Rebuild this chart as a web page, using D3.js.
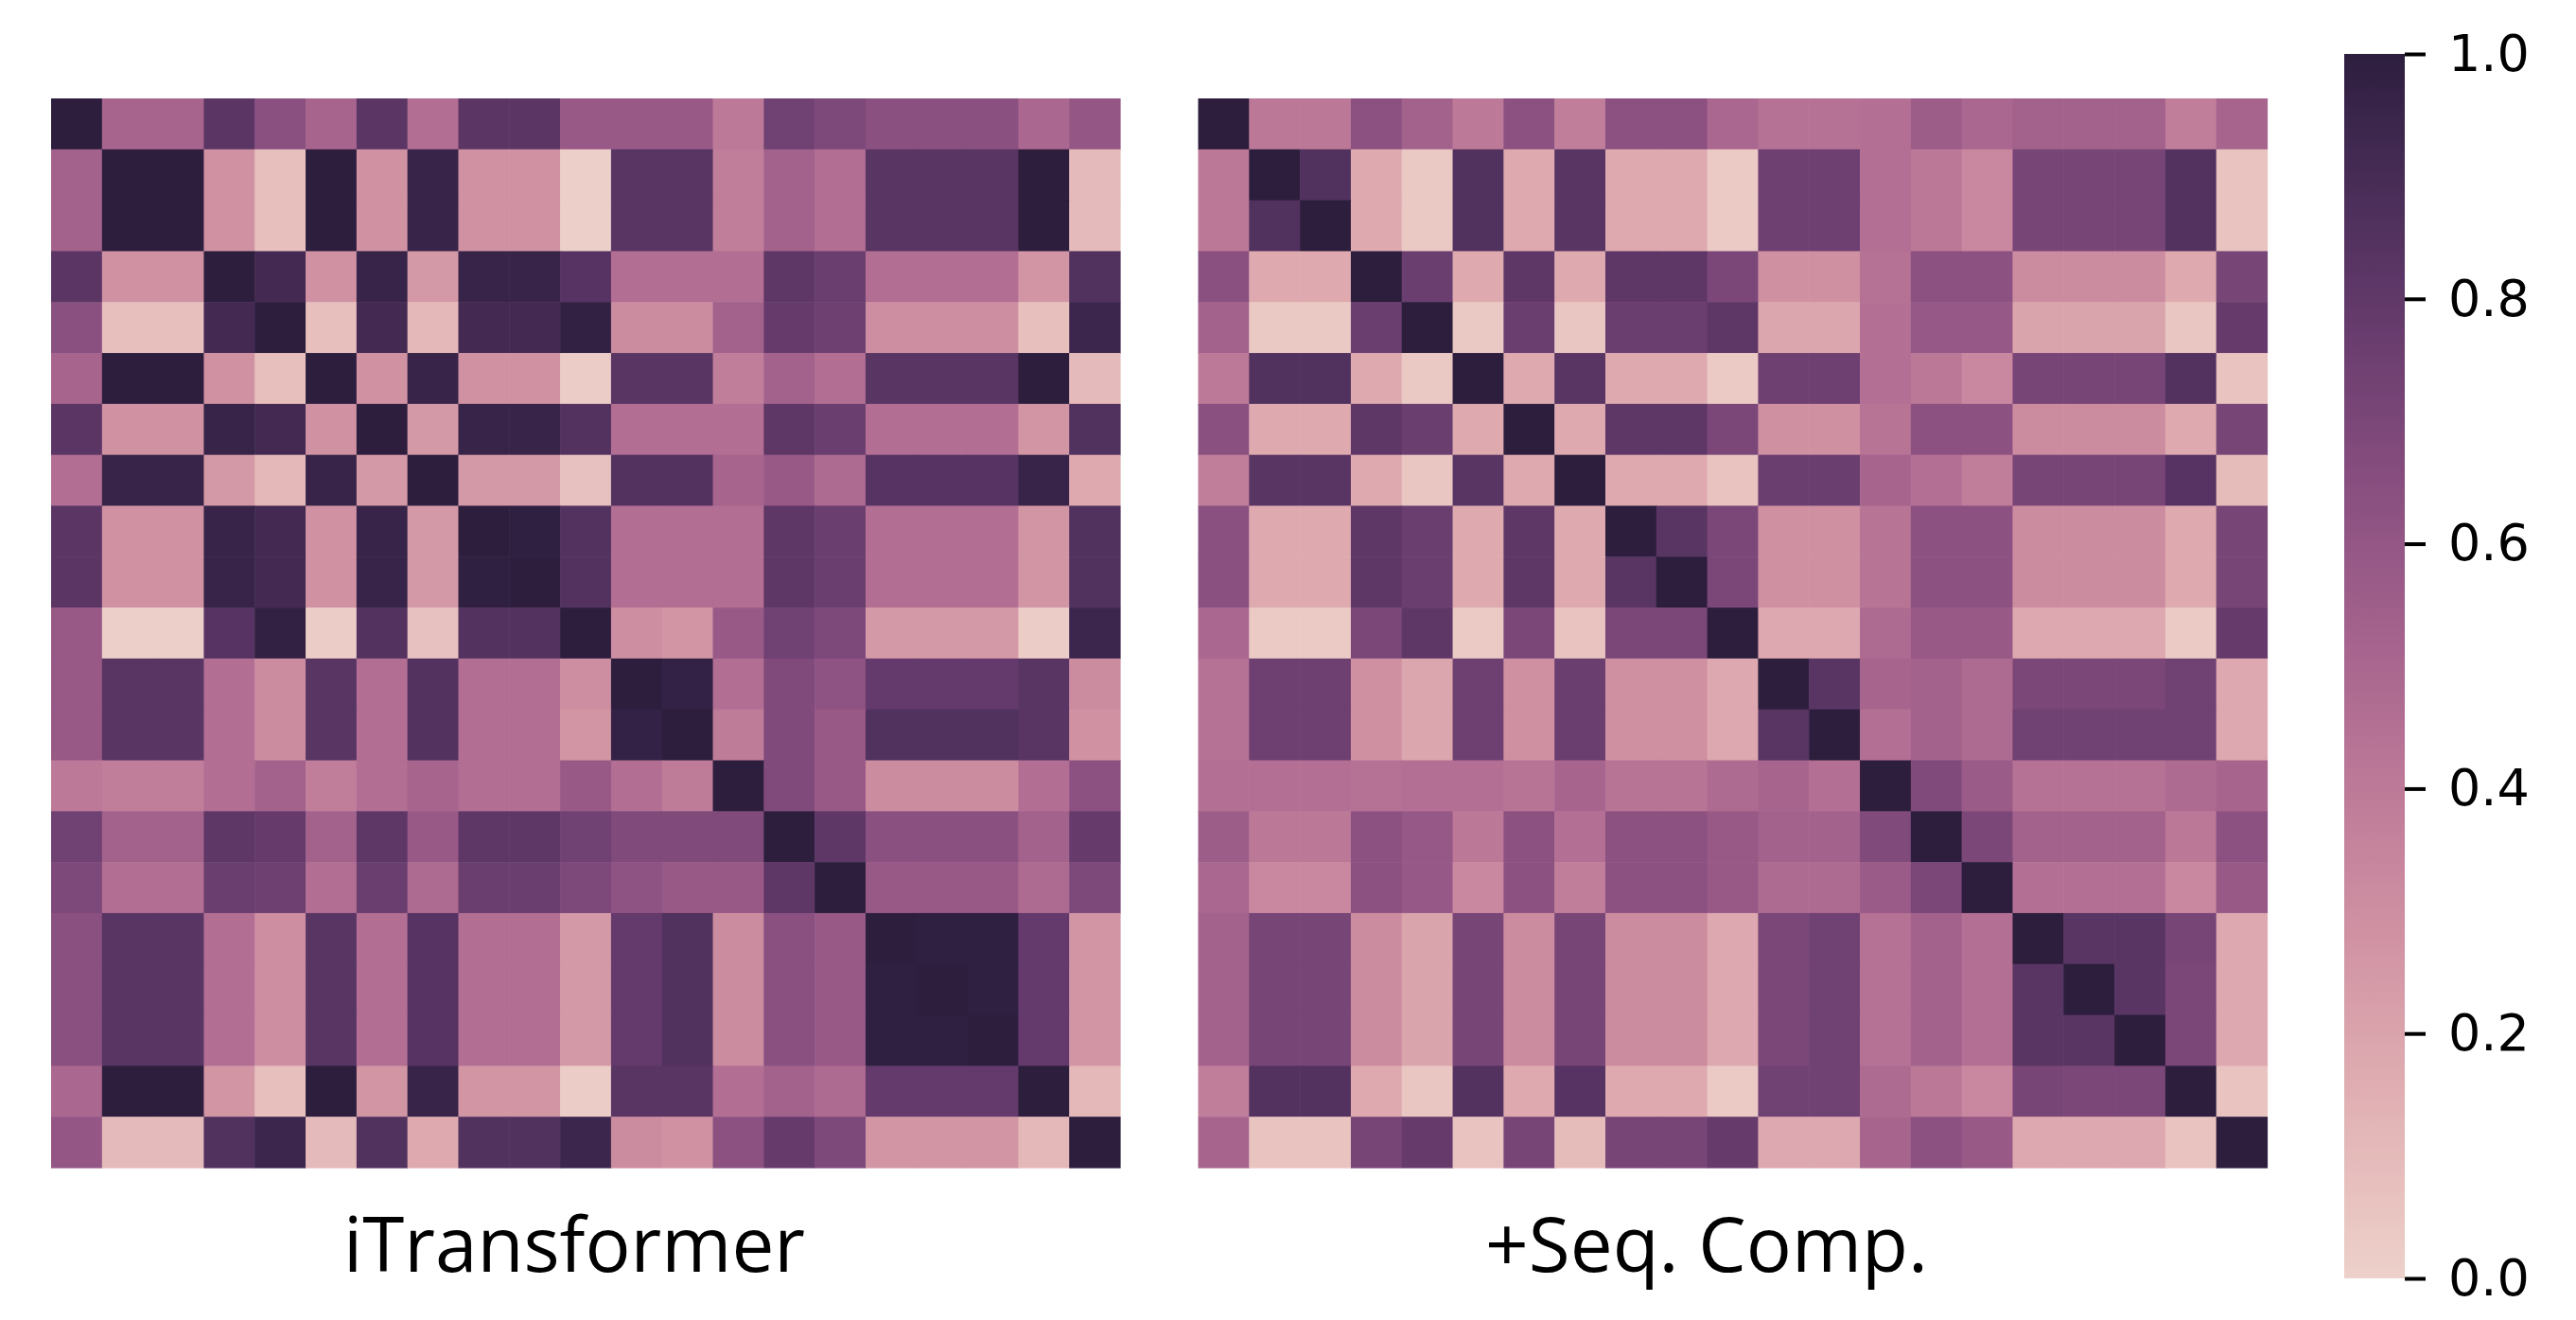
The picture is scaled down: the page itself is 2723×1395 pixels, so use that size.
<!DOCTYPE html>
<html lang="en">

<head>
    <meta charset="utf-8">
    <title>Variate correlation heatmaps</title>
    <script type="text/javascript" src="https://cdn.jsdelivr.net/npm/d3@7"></script>
    <style>
        body {
            margin: 0;
            background: #ffffff;
        }
    </style>
</head>

<body>
    <script type="text/javascript">
        // Data ---------------------------------------------------
        // 21 variates, correlation (row by row)
        var variates = d3.range(21);

        var iTransformerCorr = [
            [1.00, 0.51, 0.51, 0.82, 0.64, 0.51, 0.82, 0.46, 0.82, 0.82, 0.58, 0.58, 0.58, 0.40, 0.74, 0.69, 0.64, 0.64, 0.64, 0.50, 0.60],
            [0.53, 1.00, 1.00, 0.28, 0.08, 1.00, 0.28, 0.96, 0.28, 0.28, 0.01, 0.83, 0.83, 0.38, 0.53, 0.46, 0.83, 0.83, 0.83, 1.00, 0.10],
            [0.53, 1.00, 1.00, 0.28, 0.08, 1.00, 0.28, 0.96, 0.28, 0.28, 0.01, 0.83, 0.83, 0.38, 0.53, 0.46, 0.83, 0.83, 0.83, 1.00, 0.10],
            [0.82, 0.28, 0.28, 1.00, 0.91, 0.28, 0.96, 0.25, 0.96, 0.96, 0.84, 0.46, 0.46, 0.46, 0.81, 0.76, 0.46, 0.46, 0.46, 0.27, 0.86],
            [0.64, 0.08, 0.08, 0.91, 1.00, 0.08, 0.91, 0.11, 0.91, 0.91, 0.98, 0.31, 0.31, 0.53, 0.78, 0.75, 0.30, 0.30, 0.30, 0.08, 0.94],
            [0.51, 1.00, 1.00, 0.28, 0.08, 1.00, 0.28, 0.96, 0.28, 0.28, 0.02, 0.83, 0.83, 0.38, 0.53, 0.46, 0.83, 0.83, 0.83, 1.00, 0.10],
            [0.82, 0.28, 0.28, 0.96, 0.91, 0.28, 1.00, 0.25, 0.96, 0.96, 0.85, 0.46, 0.46, 0.46, 0.81, 0.76, 0.46, 0.46, 0.46, 0.27, 0.86],
            [0.46, 0.96, 0.96, 0.25, 0.11, 0.96, 0.25, 1.00, 0.25, 0.25, 0.07, 0.85, 0.85, 0.51, 0.58, 0.48, 0.84, 0.84, 0.84, 0.96, 0.17],
            [0.82, 0.28, 0.28, 0.96, 0.91, 0.28, 0.96, 0.25, 1.00, 0.99, 0.85, 0.46, 0.46, 0.46, 0.81, 0.76, 0.46, 0.46, 0.46, 0.27, 0.86],
            [0.82, 0.28, 0.28, 0.96, 0.91, 0.28, 0.96, 0.25, 0.99, 1.00, 0.85, 0.46, 0.46, 0.46, 0.81, 0.76, 0.46, 0.46, 0.46, 0.27, 0.86],
            [0.58, 0.01, 0.01, 0.84, 0.98, 0.02, 0.85, 0.07, 0.85, 0.85, 1.00, 0.30, 0.27, 0.58, 0.74, 0.69, 0.25, 0.25, 0.25, 0.02, 0.94],
            [0.58, 0.83, 0.83, 0.46, 0.31, 0.83, 0.46, 0.85, 0.46, 0.46, 0.30, 1.00, 0.97, 0.46, 0.68, 0.62, 0.79, 0.79, 0.79, 0.83, 0.31],
            [0.58, 0.83, 0.83, 0.46, 0.31, 0.83, 0.46, 0.85, 0.46, 0.46, 0.27, 0.97, 1.00, 0.39, 0.68, 0.58, 0.86, 0.86, 0.86, 0.83, 0.28],
            [0.40, 0.38, 0.38, 0.46, 0.53, 0.38, 0.46, 0.51, 0.46, 0.46, 0.58, 0.46, 0.39, 1.00, 0.68, 0.58, 0.31, 0.31, 0.31, 0.46, 0.63],
            [0.74, 0.53, 0.53, 0.81, 0.78, 0.53, 0.81, 0.58, 0.81, 0.81, 0.74, 0.68, 0.68, 0.68, 1.00, 0.81, 0.64, 0.64, 0.64, 0.53, 0.78],
            [0.69, 0.46, 0.46, 0.76, 0.75, 0.46, 0.76, 0.48, 0.76, 0.76, 0.69, 0.62, 0.58, 0.58, 0.81, 1.00, 0.58, 0.58, 0.58, 0.48, 0.69],
            [0.64, 0.83, 0.83, 0.46, 0.30, 0.83, 0.46, 0.84, 0.46, 0.46, 0.25, 0.79, 0.86, 0.31, 0.64, 0.58, 1.00, 0.99, 0.99, 0.79, 0.27],
            [0.64, 0.83, 0.83, 0.46, 0.30, 0.83, 0.46, 0.84, 0.46, 0.46, 0.25, 0.79, 0.86, 0.31, 0.64, 0.58, 0.99, 1.00, 0.99, 0.79, 0.27],
            [0.64, 0.83, 0.83, 0.46, 0.30, 0.83, 0.46, 0.84, 0.46, 0.46, 0.25, 0.79, 0.86, 0.31, 0.64, 0.58, 0.99, 0.99, 1.00, 0.79, 0.27],
            [0.50, 1.00, 1.00, 0.27, 0.08, 1.00, 0.27, 0.96, 0.27, 0.27, 0.02, 0.83, 0.83, 0.46, 0.53, 0.48, 0.79, 0.79, 0.79, 1.00, 0.11],
            [0.60, 0.10, 0.10, 0.86, 0.94, 0.10, 0.86, 0.17, 0.86, 0.86, 0.94, 0.31, 0.28, 0.63, 0.78, 0.69, 0.27, 0.27, 0.27, 0.11, 1.00]
        ];

        var seqCompCorr = [
            [1.00, 0.41, 0.41, 0.63, 0.53, 0.40, 0.63, 0.38, 0.63, 0.63, 0.50, 0.44, 0.44, 0.45, 0.56, 0.50, 0.53, 0.53, 0.53, 0.38, 0.51],
            [0.41, 1.00, 0.86, 0.17, 0.04, 0.86, 0.17, 0.83, 0.17, 0.17, 0.03, 0.75, 0.75, 0.45, 0.41, 0.33, 0.71, 0.71, 0.71, 0.85, 0.06],
            [0.41, 0.86, 1.00, 0.17, 0.04, 0.86, 0.17, 0.83, 0.17, 0.17, 0.03, 0.75, 0.75, 0.45, 0.41, 0.33, 0.71, 0.71, 0.71, 0.85, 0.06],
            [0.64, 0.17, 0.17, 1.00, 0.76, 0.17, 0.81, 0.17, 0.81, 0.81, 0.70, 0.29, 0.29, 0.44, 0.63, 0.63, 0.31, 0.31, 0.31, 0.17, 0.71],
            [0.53, 0.04, 0.04, 0.76, 1.00, 0.04, 0.76, 0.05, 0.76, 0.76, 0.81, 0.19, 0.19, 0.45, 0.59, 0.59, 0.20, 0.20, 0.20, 0.05, 0.78],
            [0.40, 0.86, 0.86, 0.17, 0.04, 1.00, 0.17, 0.83, 0.17, 0.17, 0.03, 0.75, 0.75, 0.45, 0.41, 0.33, 0.71, 0.71, 0.71, 0.85, 0.06],
            [0.64, 0.17, 0.17, 0.81, 0.76, 0.17, 1.00, 0.17, 0.81, 0.81, 0.70, 0.29, 0.29, 0.43, 0.63, 0.63, 0.31, 0.31, 0.31, 0.17, 0.71],
            [0.38, 0.83, 0.83, 0.17, 0.05, 0.83, 0.17, 1.00, 0.17, 0.17, 0.06, 0.76, 0.76, 0.51, 0.45, 0.38, 0.71, 0.71, 0.71, 0.84, 0.09],
            [0.64, 0.17, 0.17, 0.81, 0.76, 0.17, 0.81, 0.17, 1.00, 0.83, 0.70, 0.29, 0.29, 0.43, 0.63, 0.63, 0.31, 0.31, 0.31, 0.17, 0.71],
            [0.64, 0.17, 0.17, 0.81, 0.76, 0.17, 0.81, 0.17, 0.83, 1.00, 0.70, 0.29, 0.29, 0.43, 0.63, 0.63, 0.31, 0.31, 0.31, 0.17, 0.71],
            [0.50, 0.03, 0.03, 0.70, 0.81, 0.03, 0.70, 0.06, 0.70, 0.70, 1.00, 0.18, 0.18, 0.48, 0.58, 0.58, 0.18, 0.18, 0.18, 0.03, 0.78],
            [0.44, 0.75, 0.75, 0.29, 0.19, 0.75, 0.29, 0.76, 0.29, 0.29, 0.18, 1.00, 0.83, 0.51, 0.53, 0.48, 0.70, 0.70, 0.70, 0.74, 0.18],
            [0.44, 0.75, 0.75, 0.29, 0.19, 0.75, 0.29, 0.76, 0.29, 0.29, 0.18, 0.83, 1.00, 0.45, 0.53, 0.48, 0.74, 0.74, 0.74, 0.74, 0.18],
            [0.45, 0.45, 0.45, 0.44, 0.45, 0.45, 0.43, 0.51, 0.43, 0.43, 0.48, 0.51, 0.45, 1.00, 0.68, 0.57, 0.44, 0.44, 0.44, 0.48, 0.51],
            [0.56, 0.41, 0.41, 0.63, 0.59, 0.41, 0.63, 0.45, 0.63, 0.63, 0.58, 0.53, 0.53, 0.68, 1.00, 0.70, 0.53, 0.53, 0.53, 0.41, 0.63],
            [0.50, 0.33, 0.33, 0.63, 0.59, 0.33, 0.63, 0.38, 0.63, 0.63, 0.58, 0.48, 0.48, 0.57, 0.70, 1.00, 0.45, 0.45, 0.45, 0.33, 0.58],
            [0.53, 0.71, 0.71, 0.31, 0.20, 0.71, 0.31, 0.71, 0.31, 0.31, 0.18, 0.70, 0.74, 0.44, 0.53, 0.45, 1.00, 0.83, 0.83, 0.71, 0.18],
            [0.53, 0.71, 0.71, 0.31, 0.20, 0.71, 0.31, 0.71, 0.31, 0.31, 0.18, 0.70, 0.74, 0.44, 0.53, 0.45, 0.83, 1.00, 0.83, 0.70, 0.18],
            [0.53, 0.71, 0.71, 0.31, 0.20, 0.71, 0.31, 0.71, 0.31, 0.31, 0.18, 0.70, 0.74, 0.44, 0.53, 0.45, 0.83, 0.83, 1.00, 0.70, 0.18],
            [0.38, 0.85, 0.85, 0.17, 0.05, 0.85, 0.17, 0.84, 0.17, 0.17, 0.03, 0.74, 0.74, 0.48, 0.41, 0.33, 0.71, 0.70, 0.70, 1.00, 0.06],
            [0.51, 0.06, 0.06, 0.71, 0.78, 0.06, 0.71, 0.09, 0.71, 0.71, 0.78, 0.18, 0.18, 0.51, 0.63, 0.58, 0.18, 0.18, 0.18, 0.06, 1.00]
        ];

        var panelTitles = ["iTransformer", "+Seq. Comp."];
        var colorbarTicks = [0.0, 0.2, 0.4, 0.6, 0.8, 1.0];

        //Width and height
        var w = 2723;
        var h = 1395;

        // seaborn cubehelix_palette(as_cmap=True) defaults
        function cubehelix(v) {
            var x = 0.85 + (0.15 - 0.85) * Math.max(0, Math.min(1, v));
            var a = 0.8 * x * (1 - x) / 2;
            var phi = 2 * Math.PI * (0.4 * x);
            var c = Math.cos(phi), s = Math.sin(phi);
            var r = x + a * (-0.14861 * c + 1.78277 * s);
            var g = x + a * (-0.29227 * c - 0.90649 * s);
            var b = x + a * (1.97294 * c);
            var clip = function(t) { return Math.round(255 * Math.max(0, Math.min(1, t))); };
            return d3.rgb(clip(r), clip(g), clip(b)).formatHex();
        }

        var svg = d3.select("body")
            .append("svg")
            .attr("width", w)
            .attr("height", h);

        svg.append("rect")
            .attr("width", w)
            .attr("height", h)
            .attr("fill", "#ffffff");

        // Heatmaps -----------------------------------------------
        var panels = [
            { values: iTransformerCorr, x0: 54, titleX: 607 },
            { values: seqCompCorr, x0: 1266.5, titleX: 1804 }
        ];
        var size = 1130;

        var yScale = d3.scaleBand()
            .domain(variates)
            .range([104, 104 + size]);

        panels.forEach(function(p, k) {
            var xScale = d3.scaleBand()
                .domain(variates)
                .range([p.x0, p.x0 + size]);

            var cells = [];
            p.values.forEach(function(row, i) {
                row.forEach(function(v, j) {
                    cells.push({ row: i, col: j, value: v });
                });
            });

            svg.append("g")
                .selectAll("rect")
                .data(cells)
                .enter()
                .append("rect")
                .attr("x", function(d) { return xScale(d.col); })
                .attr("y", function(d) { return yScale(d.row); })
                .attr("width", xScale.bandwidth() + 0.6)
                .attr("height", yScale.bandwidth() + 0.6)
                .attr("fill", function(d) { return cubehelix(d.value); });

            svg.append("text")
                .text(panelTitles[k])
                .attr("x", p.titleX)
                .attr("y", 1344)
                .attr("text-anchor", "middle")
                .attr("font-family", "'Open Sans', sans-serif")
                .attr("font-size", "80px")
                .attr("fill", "#000");
        });

        // Colorbar -----------------------------------------------
        var cbX = 2478, cbW = 64;
        var cScale = d3.scaleLinear()
            .domain([0, 1])
            .range([1351, 57]);

        var grad = svg.append("defs")
            .append("linearGradient")
            .attr("id", "cbar")
            .attr("x1", 0).attr("y1", 1)
            .attr("x2", 0).attr("y2", 0);

        grad.selectAll("stop")
            .data(d3.range(0, 1.0001, 1 / 64))
            .enter()
            .append("stop")
            .attr("offset", function(d) { return d; })
            .attr("stop-color", function(d) { return cubehelix(d); });

        svg.append("rect")
            .attr("x", cbX)
            .attr("y", cScale(1))
            .attr("width", cbW)
            .attr("height", cScale(0) - cScale(1))
            .attr("fill", "url(#cbar)");

        var cAxis = d3.axisRight(cScale)
            .tickValues(colorbarTicks)
            .tickFormat(d3.format(".1f"))
            .tickSize(22)
            .tickPadding(24);

        var cAxisG = svg.append("g")
            .attr("transform", "translate(" + (cbX + cbW) + ",0)")
            .call(cAxis);

        cAxisG.select(".domain").remove();
        cAxisG.selectAll(".tick line")
            .attr("stroke", "#000")
            .attr("stroke-width", 4);
        cAxisG.selectAll(".tick text")
            .attr("font-family", "'DejaVu Sans', sans-serif")
            .attr("font-size", "54px")
            .attr("fill", "#000");
    </script>

</body>

</html>
